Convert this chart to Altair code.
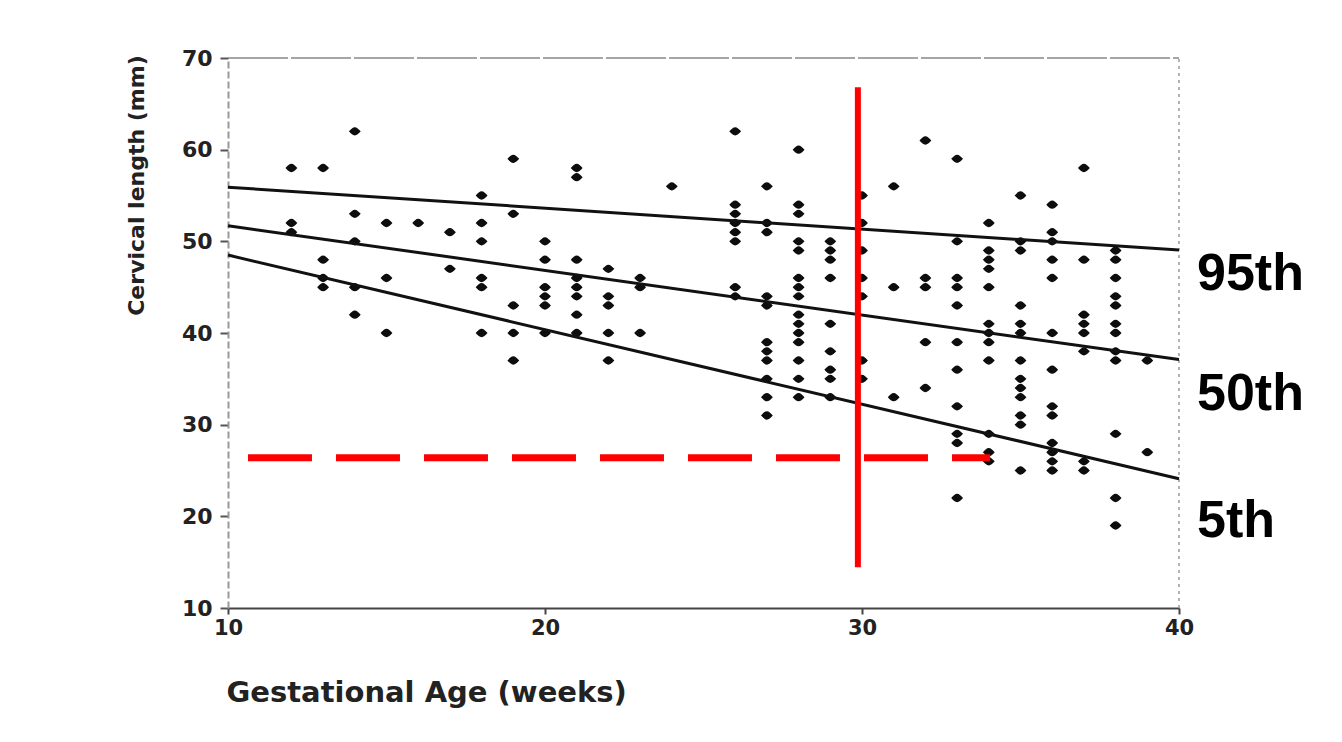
import altair as alt
import pandas as pd

# ---- data ----
weeks = [12, 13, 14, 15, 16, 17, 18, 19, 20, 21, 22, 23, 24,
         26, 27, 28, 29, 30, 31, 32, 33, 34, 35, 36, 37, 38, 39]
cervical_mm = [
    [58, 52, 51],
    [58, 48, 46, 45],
    [62, 53, 50, 45, 42],
    [52, 46, 40],
    [52],
    [51, 47],
    [55, 52, 50, 46, 45, 40],
    [59, 53, 43, 40, 37],
    [50, 48, 45, 44, 43, 40],
    [58, 57, 48, 46, 45, 44, 42, 40],
    [47, 44, 43, 40, 37],
    [46, 45, 40],
    [56],
    [62, 54, 53, 52, 51, 50, 45, 44],
    [56, 52, 51, 44, 43, 39, 38, 37, 35, 33, 31],
    [60, 54, 53, 50, 49, 46, 45, 44, 42, 41, 40, 39, 37, 35, 33],
    [50, 49, 48, 46, 41, 38, 36, 35, 33],
    [55, 52, 49, 46, 44, 37, 35],
    [56, 45, 33],
    [61, 46, 45, 39, 34],
    [59, 50, 46, 45, 43, 39, 36, 32, 29, 28, 22],
    [52, 49, 48, 47, 45, 41, 40, 39, 37, 29, 27, 26],
    [55, 50, 49, 43, 41, 40, 37, 35, 34, 33, 31, 30, 25],
    [54, 51, 50, 48, 46, 40, 36, 32, 31, 28, 27, 26, 25],
    [58, 48, 42, 41, 40, 38, 26, 25],
    [49, 48, 46, 44, 43, 41, 40, 38, 37, 29, 22, 19],
    [37, 27],
]

pct_names = ["95th", "50th", "5th"]
line_weeks = [10, 40]
pct_start_mm = [55.9, 51.7, 48.5]
pct_end_mm = [49.05, 37.1, 24.1]
label_mm = [44.7, 31.6, 17.75]

cut_week = 29.87
cut_mm = [14.45, 66.8]
threshold_mm = 26.4
threshold_weeks = [10.63, 34.04]

x_ticks = [10, 20, 30, 40]
y_ticks = [10, 20, 30, 40, 50, 60, 70]

# ---- tables ----
points = pd.DataFrame(
    [{"ga": w, "cl": v} for w, vals in zip(weeks, cervical_mm) for v in vals]
)
lines = pd.DataFrame(
    [{"pct": p, "ga": line_weeks[0], "cl": a} for p, a in zip(pct_names, pct_start_mm)]
    + [{"pct": p, "ga": line_weeks[1], "cl": b} for p, b in zip(pct_names, pct_end_mm)]
)
labels = pd.DataFrame({"pct": pct_names, "ga": [line_weeks[1]] * 3, "cl": label_mm})
vline = pd.DataFrame({"ga": [cut_week], "cl": [cut_mm[0]], "cl2": [cut_mm[1]]})
hline = pd.DataFrame({"ga": [threshold_weeks[0]], "ga2": [threshold_weeks[1]], "cl": [threshold_mm]})
top_frame = pd.DataFrame({"ga": [x_ticks[0]], "ga2": [x_ticks[-1]], "cl": [y_ticks[-1]]})
right_frame = pd.DataFrame({"ga": [x_ticks[-1]], "cl": [y_ticks[0]], "cl2": [y_ticks[-1]]})

xs = alt.Scale(domain=[10, 40], nice=False, zero=False)
ys = alt.Scale(domain=[10, 70], nice=False, zero=False)

x_axis = alt.Axis(
    values=x_ticks, title="Gestational Age (weeks)", grid=False,
    labelFont="DejaVu Sans", labelFontSize=21, labelFontWeight="bold", labelColor="#222",
    labelPadding=3, labelFlush=False, tickSize=6, tickColor="#444", tickWidth=2,
    domainColor="#444", domainWidth=2,
    titleFont="DejaVu Sans", titleFontSize=29, titleFontWeight="bold",
    titleColor="#222", titleX=-2, titleY=84, titleAlign="left",
    titleBaseline="middle", titleAnchor="start",
)
y_axis = alt.Axis(
    values=y_ticks, title="Cervical length (mm)", grid=False,
    labelFont="DejaVu Sans", labelFontSize=22, labelFontWeight="bold", labelColor="#222",
    labelPadding=8, labelFlush=False, tickSize=8, tickColor="#555", tickWidth=2,
    domainColor="#999", domainWidth=2, domainDash=[7, 3],
    titleFont="DejaVu Sans", titleFontSize=22, titleFontWeight="bold",
    titleColor="#222", titleX=-92, titleY=127, titleAngle=270,
    titleAlign="center", titleBaseline="middle",
)

X = alt.X("ga:Q", scale=xs, axis=x_axis)
Y = alt.Y("cl:Q", scale=ys, axis=y_axis)

top_rule = alt.Chart(top_frame).mark_rule(color="#888", strokeWidth=1.5, strokeDash=[60, 3]).encode(
    x=X, x2="ga2:Q", y=Y)
right_rule = alt.Chart(right_frame).mark_rule(color="#999", strokeWidth=1.5, strokeDash=[3, 4]).encode(
    x=X, y=Y, y2="cl2:Q")

dots = alt.Chart(points).mark_point(
    shape="M-1,0C-0.6,-0.4 -0.35,-0.7 0,-0.7C0.35,-0.7 0.6,-0.4 1,0C0.6,0.4 0.35,0.7 0,0.7C-0.35,0.7 -0.6,0.4 -1,0Z",
    filled=True, size=140, color="#0d0d0d", opacity=1, strokeWidth=0,
).encode(x=X, y=Y)

reg = alt.Chart(lines).mark_line(color="#111", strokeWidth=3).encode(
    x=X, y=Y, detail="pct:N")

red_v = alt.Chart(vline).mark_rule(color="#ff0000", strokeWidth=6).encode(
    x=X, y=Y, y2="cl2:Q")
red_h = alt.Chart(hline).mark_rule(color="#ff0000", strokeWidth=7, strokeDash=[64, 24],
                                   strokeCap="butt").encode(x=X, x2="ga2:Q", y=Y)

txt = alt.Chart(labels).mark_text(
    font="Liberation Sans", fontSize=52, fontWeight="bold", align="left",
    baseline="alphabetic", dx=18, color="#000",
).encode(x=X, y=Y, text="pct:N")

chart = alt.layer(top_rule, right_rule, dots, reg, red_v, red_h, txt).properties(
    width=951, height=550,
    padding={"left": 220, "top": 50, "right": 150, "bottom": 110},
    autosize=alt.AutoSizeParams(type="none"),
    background="white",
).configure_view(stroke=None)

chart.save("out.html", embed_options={"renderer": "svg", "actions": False})
